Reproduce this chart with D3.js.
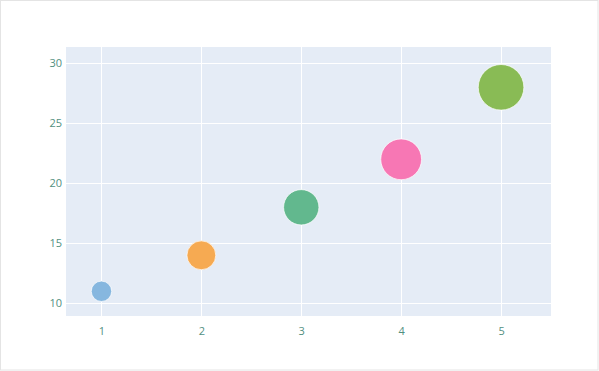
<!DOCTYPE html>
<meta charset="utf-8">
<style>
  body { margin: 0; background: #fff; }
  svg { display: block; }
</style>
<svg id="chart" width="599" height="371"></svg>
<script src="https://cdn.jsdelivr.net/npm/d3@7"></script>
<script>

var xValues = [1, 2, 3, 4, 5];
var yValues = [11, 14, 18, 22, 28];
var sizes = [10, 20, 30, 40, 50];
var colors = ["#86b7df", "#f6aa52", "#62b88e", "#f777b4", "#89bb55"];
var xTicks = [1, 2, 3, 4, 5];
var yTicks = [10, 15, 20, 25, 30];

var svg = d3.select("#chart");
var width = +svg.attr("width");
var height = +svg.attr("height");

var margin = {top: 47, right: 48, bottom: 55, left: 66};
var plotW = width - margin.left - margin.right;
var plotH = height - margin.top - margin.bottom;

// outer frame
svg.append("rect")
  .attr("x", 0.5).attr("y", 0.5)
  .attr("width", width - 1.5).attr("height", height - 1.5)
  .attr("fill", "#fff")
  .attr("stroke", "#e4e4e4");

var x = d3.scaleLinear().domain([0.645, 5.5]).range([0, plotW]);
var y = d3.scaleLinear().domain([8.94, 31.36]).range([plotH, 0]);
var r = d3.scaleSqrt().domain([0, 10]).range([0, 10.2]);

var g = svg.append("g").attr("transform", "translate(" + margin.left + "," + margin.top + ")");

g.append("rect")
  .attr("width", plotW).attr("height", plotH)
  .attr("fill", "#e5ecf6");

// grid
g.append("g").selectAll("line").data(xTicks).join("line")
  .attr("x1", d => Math.round(x(d)) + 0.5).attr("x2", d => Math.round(x(d)) + 0.5)
  .attr("y1", 0).attr("y2", plotH)
  .attr("stroke", "#fff").attr("stroke-width", 1);

g.append("g").selectAll("line").data(yTicks).join("line")
  .attr("y1", d => Math.round(y(d)) + 0.5).attr("y2", d => Math.round(y(d)) + 0.5)
  .attr("x1", 0).attr("x2", plotW)
  .attr("stroke", "#fff").attr("stroke-width", 1);

// axes (labels only)
var xAxis = g.append("g")
  .attr("transform", "translate(0," + plotH + ")")
  .call(d3.axisBottom(x).tickValues(xTicks).tickFormat(d3.format("d")).tickSize(0).tickPadding(11));
var yAxis = g.append("g")
  .call(d3.axisLeft(y).tickValues(yTicks).tickFormat(d3.format("d")).tickSize(0).tickPadding(4));

[xAxis, yAxis].forEach(function(a) {
  a.select(".domain").remove();
  a.selectAll("text")
    .attr("fill", "#52907f")
    .style("font-family", "'Open Sans', sans-serif")
    .style("font-size", "11px");
});

// bubbles
g.append("g").selectAll("circle").data(xValues).join("circle")
  .attr("cx", (d, i) => x(d))
  .attr("cy", (d, i) => y(yValues[i]))
  .attr("r", (d, i) => r(sizes[i]))
  .attr("fill", (d, i) => colors[i])
  .attr("stroke", "#fff")
  .attr("stroke-opacity", 0.7)
  .attr("stroke-width", 1);

</script>
</html>
